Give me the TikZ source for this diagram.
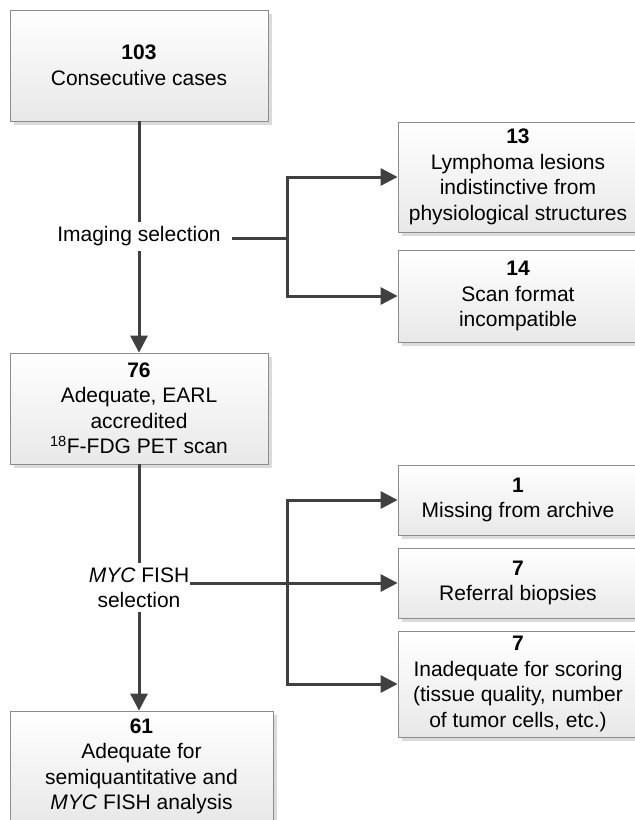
\documentclass[tikz,border=0pt]{standalone}
\usepackage{fontspec}
\setmainfont{Liberation Sans}
\usetikzlibrary{arrows.meta,shadows}
\definecolor{linec}{HTML}{404040}
\definecolor{boxborder}{HTML}{8C8C8C}
\tikzset{
  flowbox/.style={draw=boxborder, line width=0.8pt, top color=white, bottom color=black!9,
    align=center, inner sep=0pt, font=\fontsize{21}{25.5}\selectfont,
    drop shadow={shadow xshift=3.5pt, shadow yshift=-3.5pt, fill=black!14, draw=none, opacity=1}},
  steplabel/.style={align=center, font=\fontsize{21}{25}\selectfont, inner ysep=4.5pt},
  conn/.style={draw=linec, line width=3pt},
  arr/.style={conn, -{Triangle[length=17pt,width=17pt]}},
}
\begin{document}
\begin{tikzpicture}[x=1pt,y=1pt]
\useasboundingbox (0,0) rectangle (635,-820);
\clip (0,0) rectangle (635,-820);
\fill[white] (0,0) rectangle (635,-820);

% left column
\node[flowbox, minimum width=258pt, minimum height=111pt] (A) at (139,-65.5)
  {\textbf{103}\\Consecutive cases};
\node[flowbox, minimum width=258pt, minimum height=111pt] (B) at (139,-408.5)
  {\textbf{76}\\Adequate, EARL\\accredited\\\textsuperscript{18}F-FDG PET scan};
\node[flowbox, minimum width=263pt, minimum height=111pt] (C) at (141.5,-766.5)
  {\textbf{61}\\Adequate for\\semiquantitative and\\\textit{MYC} FISH analysis};

% right column
\node[flowbox, minimum width=240pt, minimum height=110pt] (D) at (518,-177)
  {\textbf{13}\\Lymphoma lesions\\indistinctive from\\physiological structures};
\node[flowbox, minimum width=240pt, minimum height=92pt] (E) at (518,-296)
  {\textbf{14}\\Scan format\\incompatible};
\node[flowbox, minimum width=240pt, minimum height=70pt] (F) at (518,-500)
  {\textbf{1}\\Missing from archive};
\node[flowbox, minimum width=240pt, minimum height=70pt] (G) at (518,-583)
  {\textbf{7}\\Referral biopsies};
\node[flowbox, minimum width=240pt, minimum height=106pt] (H) at (518,-684)
  {\textbf{7}\\Inadequate for scoring\\(tissue quality, number\\of tumor cells, etc.)};

% step labels
\node[steplabel, inner xsep=11pt] (img) at (139,-236.5) {Imaging selection};
\node[steplabel, inner xsep=1pt] (myc) at (139,-587.5) {\textit{MYC} FISH\\selection};

\coordinate (jA) at (287,-238);
\coordinate (jB) at (287,-583);

% connectors: imaging selection
\draw[conn] (A.south) -- (img.north);
\draw[arr] (img.south) -- (B.north);
\draw[conn] (img.east |- jA) -- (jA);
\draw[arr] (jA) |- (D.west);
\draw[arr] (jA) |- (E.west);

% connectors: MYC FISH selection
\draw[conn] (B.south) -- (myc.north);
\draw[arr] (myc.south) -- (myc.south |- C.north);
\draw[arr] (myc.east |- G.west) -- (G.west);
\draw[arr] (jB) |- (F.west);
\draw[arr] (jB) |- (H.west);
\end{tikzpicture}
\end{document}
